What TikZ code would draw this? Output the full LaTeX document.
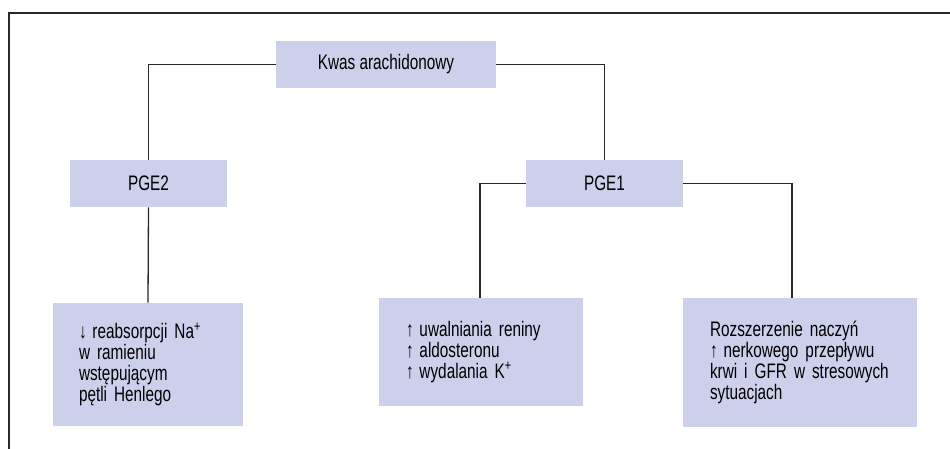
\documentclass[tikz,border=0pt]{standalone}
\usepackage{fontspec}
\setmainfont[FakeStretch=0.73]{Liberation Sans}
\usepackage{tikz}
\usetikzlibrary{positioning}
\definecolor{boxfill}{RGB}{205,208,234}
\definecolor{linecol}{RGB}{40,40,40}
\newcommand{\boxfont}{\fontsize{21}{21}\selectfont\spaceskip=4.3pt plus 1pt minus 1pt}
\newcommand{\arrup}{\makebox[6.5pt][l]{↑}}
\newcommand{\arrdown}{\makebox[6.5pt][l]{↓}}

\begin{document}
\begin{tikzpicture}[x=1pt,y=-1pt,thick,
         font=\boxfont,
         head node/.style={rectangle,fill=boxfill,minimum width=157pt,minimum height=47pt,inner sep=0pt},
         text node/.style={rectangle,fill=boxfill,align=left,inner xsep=26pt,inner ysep=0pt},
         link/.style={draw=linecol,line width=1.3pt}]

     \useasboundingbox (0,0) rectangle (950,449);
     \draw[linecol,line width=1.6pt] (950,13) -- (9,13) -- (9,449);

     \node[head node,minimum width=220pt] (kwas) at (386,64.5) {Kwas arachidonowy};
     \node[head node] (pge2) at (148.5,183.5) {PGE2};
     \node[head node] (pge1) at (604.5,183.5) {PGE1};

     \node[text node,minimum width=190pt,minimum height=123pt,text width=138pt] (sod) at (148,364.5)
          {\arrdown{} reabsorpcji Na\textsuperscript{+}\\w ramieniu\\wstępującym\\pętli Henlego};
     \node[text node,minimum width=204pt,minimum height=108pt,text width=150pt] (renina) at (481,352)
          {\arrup{} uwalniania reniny\\\arrup{} aldosteronu\\\arrup{} wydalania K\textsuperscript{+}};
     \node[text node,minimum width=234pt,minimum height=129pt,text width=180pt] (naczynia) at (800,362.5)
          {Rozszerzenie naczyń\\\arrup{} nerkowego przepływu\\krwi i GFR w stresowych\\sytuacjach};

     \draw[link] (kwas.west) -| (pge2.north);
     \draw[link] (kwas.east) -| (pge1.north);
     \draw[link] (pge2.south) -- (sod.north);
     \draw[link] (pge1.west) -| ([xshift=-1pt]renina.north);
     \draw[link] (pge1.east) -| ([xshift=-8pt]naczynia.north);
 \end{tikzpicture}
\end{document}
